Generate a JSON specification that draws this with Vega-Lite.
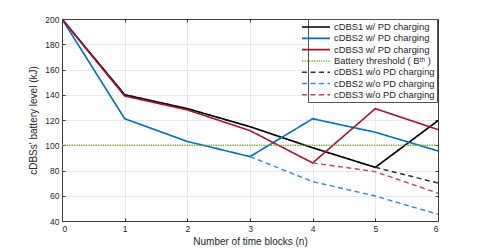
{
  "$schema": "https://vega.github.io/schema/vega-lite/v6.json",
  "autosize": "none",
  "width": 376,
  "height": 202,
  "padding": {"left": 62, "top": 19, "right": 47, "bottom": 28},
  "config": {
    "font": "Liberation Sans",
    "view": {"stroke": "#3a3a3a", "strokeWidth": 1},
    "axis": {"labelFont": "Liberation Sans", "titleFont": "Liberation Sans", "labelFontSize": 8.5, "titleFontSize": 10, "titleFontWeight": "normal", "labelColor": "#262626", "titleColor": "#262626", "domainColor": "#3a3a3a", "tickColor": "#3a3a3a", "gridColor": "#e8e8e8", "tickSize": -3, "labelPadding": 6}
  },
  "data": {"values": [
    {"s": "cDBS1 w/ PD charging", "n": 0, "v": 200},
    {"s": "cDBS1 w/ PD charging", "n": 1, "v": 140},
    {"s": "cDBS1 w/ PD charging", "n": 2, "v": 129},
    {"s": "cDBS1 w/ PD charging", "n": 3, "v": 114.7},
    {"s": "cDBS1 w/ PD charging", "n": 4, "v": 98},
    {"s": "cDBS1 w/ PD charging", "n": 5, "v": 82.5},
    {"s": "cDBS1 w/ PD charging", "n": 6, "v": 119.5},
    {"s": "cDBS2 w/ PD charging", "n": 0, "v": 200},
    {"s": "cDBS2 w/ PD charging", "n": 1, "v": 121},
    {"s": "cDBS2 w/ PD charging", "n": 2, "v": 103},
    {"s": "cDBS2 w/ PD charging", "n": 3, "v": 91},
    {"s": "cDBS2 w/ PD charging", "n": 4, "v": 121},
    {"s": "cDBS2 w/ PD charging", "n": 5, "v": 110.3},
    {"s": "cDBS2 w/ PD charging", "n": 6, "v": 95.5},
    {"s": "cDBS3 w/ PD charging", "n": 0, "v": 200},
    {"s": "cDBS3 w/ PD charging", "n": 1, "v": 139},
    {"s": "cDBS3 w/ PD charging", "n": 2, "v": 128},
    {"s": "cDBS3 w/ PD charging", "n": 3, "v": 111.6},
    {"s": "cDBS3 w/ PD charging", "n": 4, "v": 86},
    {"s": "cDBS3 w/ PD charging", "n": 5, "v": 129},
    {"s": "cDBS3 w/ PD charging", "n": 6, "v": 112.4},
    {"s": "Battery threshold ( Bᵗʰ )", "n": 0, "v": 100},
    {"s": "Battery threshold ( Bᵗʰ )", "n": 6, "v": 100},
    {"s": "cDBS1 w/o PD charging", "n": 5, "v": 82.5},
    {"s": "cDBS1 w/o PD charging", "n": 6, "v": 70.1},
    {"s": "cDBS2 w/o PD charging", "n": 3, "v": 91},
    {"s": "cDBS2 w/o PD charging", "n": 4, "v": 71.2},
    {"s": "cDBS2 w/o PD charging", "n": 5, "v": 59.8},
    {"s": "cDBS2 w/o PD charging", "n": 6, "v": 45.3},
    {"s": "cDBS3 w/o PD charging", "n": 4, "v": 86},
    {"s": "cDBS3 w/o PD charging", "n": 5, "v": 79.1},
    {"s": "cDBS3 w/o PD charging", "n": 6, "v": 62}
  ]},
  "layer": [
    {
      "mark": {"type": "line", "clip": true},
      "encoding": {
        "x": {"field": "n", "type": "quantitative", "scale": {"domain": [0, 6], "nice": false}, "axis": {"title": "Number of time blocks (n)", "values": [0,1,2,3,4,5,6], "format": "d", "titlePadding": 4}},
        "y": {"field": "v", "type": "quantitative", "scale": {"domain": [40, 200], "nice": false}, "axis": {"title": "cDBSs' battery level (kJ)", "values": [40,60,80,100,120,140,160,180,200], "titlePadding": 6}},
        "color": {"field": "s", "type": "nominal", "sort": null,
          "scale": {"domain": ["cDBS1 w/ PD charging", "cDBS2 w/ PD charging", "cDBS3 w/ PD charging", "Battery threshold ( Bᵗʰ )", "cDBS1 w/o PD charging", "cDBS2 w/o PD charging", "cDBS3 w/o PD charging"],
                    "range": ["#000000", "#0072BD", "#A2142F", "#77AC30", "#333333", "#2f8fd6", "#c4405e"]},
          "legend": {"title": null, "orient": "none", "legendX": 246, "legendY": 0, "symbolType": "M-2.8,0H2.8", "symbolSize": 100, "symbolStrokeWidth": 1.5, "labelFontSize": 9.4, "labelFont": "Liberation Sans", "labelColor": "#262626", "strokeColor": "#555555", "fillColor": "white", "padding": 2, "rowPadding": 0.3, "labelOffset": 12, "labelLimit": 200, "offset": 0}},
        "strokeDash": {"field": "s", "type": "nominal", "sort": null,
          "scale": {"domain": ["cDBS1 w/ PD charging", "cDBS2 w/ PD charging", "cDBS3 w/ PD charging", "Battery threshold ( Bᵗʰ )", "cDBS1 w/o PD charging", "cDBS2 w/o PD charging", "cDBS3 w/o PD charging"],
                    "range": [[1,0],[1,0],[1,0],[1.2,1.2],[5,3.5],[5,3.5],[5,3.5]]}},
        "strokeWidth": {"field": "s", "type": "nominal", "sort": null,
          "scale": {"domain": ["cDBS1 w/ PD charging", "cDBS2 w/ PD charging", "cDBS3 w/ PD charging", "Battery threshold ( Bᵗʰ )", "cDBS1 w/o PD charging", "cDBS2 w/o PD charging", "cDBS3 w/o PD charging"],
                    "range": [1.7, 1.4, 1.5, 1.6, 1.1, 1.1, 1.1]}, "legend": null}
      }
    },
    {
      "data": {"values": [{"n": 0, "v": 40}]},
      "mark": {"type": "point", "opacity": 0},
      "encoding": {
        "x": {"field": "n", "type": "quantitative", "scale": {"domain": [0, 6], "nice": false}, "axis": {"orient": "top", "values": [0,1,2,3,4,5,6], "labels": false, "grid": false, "title": null}},
        "y": {"field": "v", "type": "quantitative", "scale": {"domain": [40, 200], "nice": false}, "axis": {"orient": "right", "values": [40,60,80,100,120,140,160,180,200], "labels": false, "grid": false, "title": null}}
      }
    }
  ],
  "resolve": {"axis": {"x": "independent", "y": "independent"}}
}
